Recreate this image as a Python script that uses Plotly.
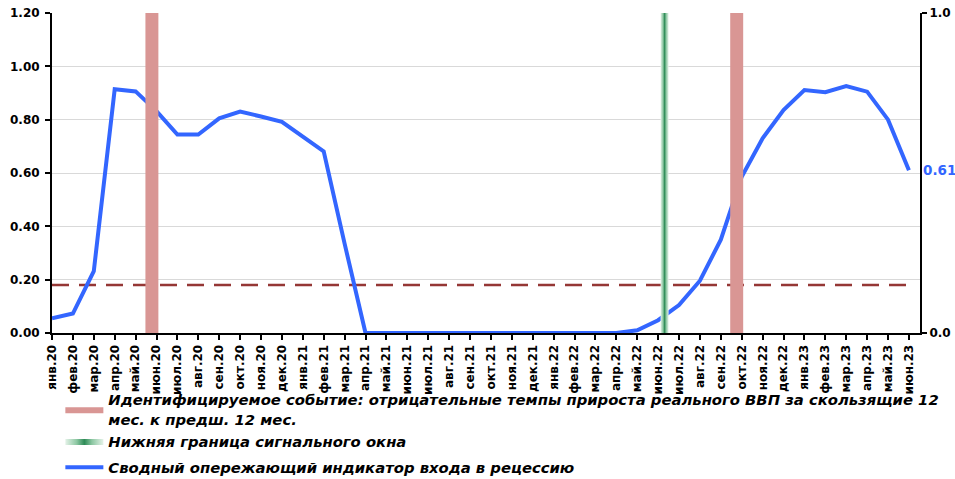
import plotly.graph_objects as go

# ---- data ----
month_labels = [
    "янв.20", "фев.20", "мар.20", "апр.20", "май.20", "июн.20", "июл.20", "авг.20", "сен.20", "окт.20", "ноя.20", "дек.20",
    "янв.21", "фев.21", "мар.21", "апр.21", "май.21", "июн.21", "июл.21", "авг.21", "сен.21", "окт.21", "ноя.21", "дек.21",
    "янв.22", "фев.22", "мар.22", "апр.22", "май.22", "июн.22", "июл.22", "авг.22", "сен.22", "окт.22", "ноя.22", "дек.22",
    "янв.23", "фев.23", "мар.23", "апр.23", "май.23", "июн.23",
]
indicator = [
    0.055, 0.073, 0.232, 0.914, 0.906, 0.832, 0.744, 0.744, 0.805, 0.830, 0.812, 0.792,
    0.736, 0.681, 0.335, 0.0, 0.0, 0.0, 0.0, 0.0, 0.0, 0.0, 0.0, 0.0,
    0.0, 0.0, 0.0, 0.0, 0.010, 0.048, 0.105, 0.196, 0.350, 0.586, 0.730, 0.836,
    0.911, 0.903, 0.926, 0.905, 0.800, 0.610,
]
threshold = 0.18
# positions on the time axis (month index) of the event bars and signal-window line
event_positions = [4.78, 32.76]
signal_positions = [29.31]

label_event = ("Идентифицируемое событие: отрицательные темпы прироста реального ВВП за скользящие 12"
               "<br>мес. к предш. 12 мес.")
label_signal = "Нижняя граница сигнального окна"
label_indicator = "Сводный опережающий индикатор входа в рецессию"

# ---- styles ----
EVENT_HALF = 0.31
SIGNAL_HALF = 0.19
RED = "#d99694"
BLUE = "#3366ff"
TICKFONT = dict(family="DejaVu Sans", size=12, color="black", weight="bold")

xs = list(range(len(month_labels)))


def bands(positions, half):
    bx, by = [], []
    for p in positions:
        bx += [p - half, p + half, p + half, p - half, p - half, None]
        by += [0, 0, 1, 1, 0, None]
    return bx, by


fig = go.Figure()

ex, ey = bands(event_positions, EVENT_HALF)
fig.add_trace(go.Scatter(
    x=ex, y=ey, mode="lines", fill="toself", fillcolor=RED, line=dict(width=0, color=RED),
    yaxis="y2", name=label_event, legendgroup="a", legendrank=1, hoverinfo="skip"))

sx, sy = bands(signal_positions, SIGNAL_HALF)
fig.add_trace(go.Scatter(
    x=sx, y=sy, mode="lines", fill="toself", line=dict(width=0, color="#3a9a66"),
    fillgradient=dict(type="horizontal",
                      colorscale=[[0, "#e4f2e8"], [0.3, "#8cc7a2"], [0.5, "#2e8b57"], [0.7, "#8cc7a2"], [1, "#e4f2e8"]]),
    yaxis="y2", name=label_signal, legendgroup="a", legendrank=2, hoverinfo="skip"))

fig.add_trace(go.Scatter(
    x=[xs[0], xs[-1]], y=[threshold, threshold], mode="lines",
    line=dict(color="#953735", width=2.5, dash="17px,10px"), showlegend=False, hoverinfo="skip"))

fig.add_trace(go.Scatter(
    x=xs, y=indicator, mode="lines", line=dict(color=BLUE, width=4),
    name=label_indicator, legendgroup="b", legendrank=3))

fig.add_annotation(
    x=xs[-1], y=indicator[-1], text=f"{indicator[-1]:.2f}", showarrow=False,
    xanchor="left", yanchor="middle", xshift=12,
    font=dict(family="DejaVu Sans", size=13.5, color=BLUE, weight="bold"))

fig.update_layout(
    width=955, height=479,
    margin=dict(l=52, r=35, t=13, b=146, autoexpand=False),
    paper_bgcolor="white", plot_bgcolor="white",
    showlegend=True,
    legend=dict(
        xref="container", yref="container", x=0.0632, y=0.1995, xanchor="left", yanchor="top",
        orientation="v", traceorder="grouped", tracegroupgap=4, itemwidth=38,
        font=dict(family="DejaVu Sans", size=14.8, color="black", weight="bold", style="italic"),
        bgcolor="rgba(0,0,0,0)"),
    xaxis=dict(
        range=[0, 41.53], tickmode="array", tickvals=xs, ticktext=month_labels, tickangle=-90,
        showline=True, linecolor="black", linewidth=2, ticks="outside", ticklen=5, tickwidth=2,
        tickcolor="black", showgrid=False, zeroline=False, tickfont=TICKFONT, automargin=False),
    yaxis=dict(
        range=[0, 1.2], dtick=0.2, tickformat=".2f", showline=True, linecolor="black", linewidth=2,
        ticks="outside", ticklen=5, tickwidth=2, tickcolor="black", gridcolor="#d9d9d9", gridwidth=1,
        zeroline=False, tickfont=TICKFONT, automargin=False, ticklabelstandoff=3),
    yaxis2=dict(
        range=[0, 1], overlaying="y", side="right", tickvals=[0, 1], tickformat=".1f",
        showline=True, linecolor="black", linewidth=2, ticks="outside", ticklen=5, tickwidth=2,
        tickcolor="black", showgrid=False, zeroline=False, tickfont=TICKFONT, automargin=False),
)

fig.write_html("out.html", config={"displayModeBar": False},
               post_script="document.body.style.margin='0';")
